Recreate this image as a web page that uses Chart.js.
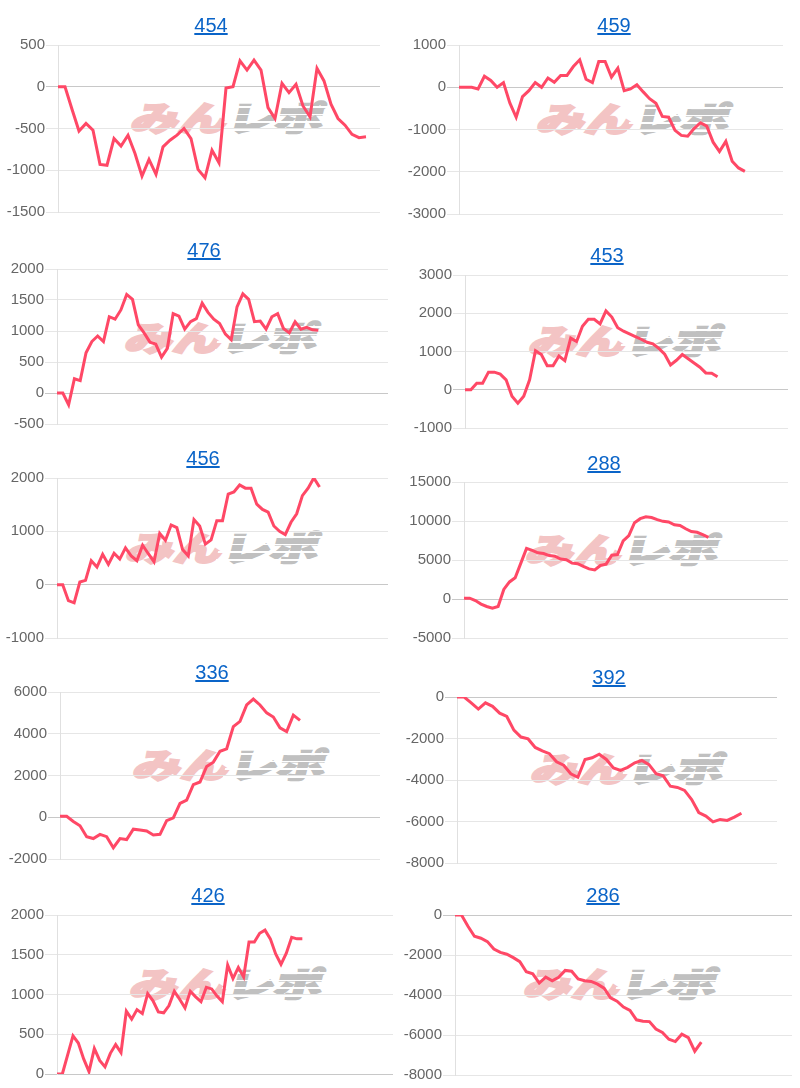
<!DOCTYPE html>
<html>
<head>
<meta charset="utf-8">
<script src="https://cdn.jsdelivr.net/npm/chart.js@4.4.1/dist/chart.umd.min.js"></script>
<style>
  body { margin: 0; background: #fff; }
  #page { position: relative; width: 800px; height: 1088px; overflow: hidden; }
  canvas { position: absolute; z-index: 2; }
  .title {
    position: absolute; z-index: 3; transform: translateX(-50%);
    font-family: "Liberation Sans", Arial, sans-serif; font-size: 20px; line-height: 22px;
    color: #0a64c8; text-decoration: underline;
  }
  .wm {
    position: absolute; z-index: 1; white-space: nowrap;
    font-family: "Noto Sans CJK JP", sans-serif; font-weight: 900; font-size: 40px; line-height: 40px;
    transform: translate(-50%, -50%) skewX(-14deg) scale(1.2, 0.85);
  }
  .wm .a { color: rgb(243, 196, 196); -webkit-text-stroke: 2.5px rgb(243, 196, 196); }
  .wm .b { position: relative; color: rgb(192, 192, 192); -webkit-text-stroke: 2.5px rgb(192, 192, 192); }
  .wm .b::after {
    content: ""; position: absolute; left: -4px; right: -4px; top: 0; bottom: 0;
    background: repeating-linear-gradient(to bottom, rgba(255,255,255,0) 0 7px, #fff 7px 9px);
  }
</style>
</head>
<body>
<div id="page"></div>
<script>
const titles = ["454", "459", "476", "453", "456", "288", "336", "392", "426", "286"];

const values454 = [0, 0, -270, -530, -440, -520, -930, -940, -620, -710, -580, -800, -1070, -870, -1050, -720, -640, -580, -500, -620, -990, -1090, -760, -910, -15, 0, 310, 200, 320, 200, -250, -380, 40, -70, 30, -230, -360, 220, 70, -210, -380, -460, -570, -610, -600];
const values459 = [0, 0, 0, -40, 260, 160, 0, 110, -370, -710, -220, -80, 110, 0, 220, 120, 280, 280, 490, 650, 190, 110, 610, 610, 240, 450, -80, -40, 60, -110, -270, -380, -690, -710, -1020, -1140, -1160, -980, -840, -920, -1300, -1520, -1280, -1750, -1910, -1990];
const values476 = [0, 0, -190, 230, 200, 650, 830, 920, 830, 1230, 1190, 1340, 1590, 1510, 1100, 970, 820, 790, 580, 720, 1280, 1240, 1030, 1150, 1200, 1450, 1300, 1190, 1120, 950, 860, 1390, 1600, 1510, 1150, 1160, 1030, 1230, 1280, 1040, 970, 1150, 1030, 1060, 1020, 1010];
const values453 = [0, 0, 170, 170, 460, 460, 410, 260, -170, -350, -170, 260, 1020, 920, 630, 630, 880, 760, 1350, 1260, 1660, 1840, 1840, 1720, 2060, 1900, 1620, 1530, 1460, 1390, 1320, 1240, 1200, 1080, 930, 650, 770, 920, 810, 700, 590, 440, 430, 340];
const values456 = [0, 0, -300, -340, 50, 80, 450, 330, 570, 380, 590, 480, 690, 540, 450, 740, 580, 430, 960, 830, 1120, 1070, 660, 540, 1220, 1100, 760, 840, 1200, 1200, 1700, 1740, 1870, 1810, 1810, 1510, 1410, 1360, 1100, 1000, 940, 1170, 1330, 1670, 1810, 2000, 1830];
const values288 = [100, 100, -200, -650, -960, -1180, -960, 1230, 2190, 2720, 4600, 6490, 6230, 5920, 5830, 5570, 5480, 5130, 5040, 4600, 4520, 4170, 3860, 3730, 4300, 4470, 5610, 5700, 7460, 8120, 9780, 10300, 10530, 10440, 10180, 9960, 9870, 9520, 9430, 9000, 8640, 8550, 8250, 7900];
const values336 = [50, 50, -200, -410, -930, -1020, -820, -930, -1460, -1020, -1070, -570, -610, -660, -850, -820, -160, -30, 660, 820, 1560, 1690, 2430, 2640, 3160, 3280, 4340, 4590, 5380, 5660, 5380, 5000, 4800, 4280, 4100, 4890, 4640];
const values392 = [0, 0, -280, -580, -280, -450, -780, -940, -1600, -1930, -2020, -2430, -2600, -2730, -3120, -3290, -3700, -3870, -3010, -2930, -2760, -3010, -3420, -3540, -3390, -3170, -3060, -3260, -3700, -3800, -4300, -4360, -4500, -4940, -5570, -5740, -6020, -5900, -5950, -5790, -5600];
const values426 = [0, 0, 240, 480, 390, 190, 30, 320, 170, 90, 260, 370, 270, 790, 690, 810, 760, 1010, 920, 780, 770, 860, 1040, 940, 830, 1040, 970, 910, 1090, 1070, 980, 910, 1370, 1200, 1340, 1220, 1660, 1660, 1770, 1810, 1700, 1510, 1380, 1520, 1720, 1700, 1700];
const values286 = [0, 0, -560, -1060, -1160, -1330, -1700, -1870, -1960, -2130, -2330, -2840, -2940, -3400, -3110, -3290, -3110, -2770, -2810, -3200, -3290, -3320, -3460, -3660, -4140, -4310, -4600, -4770, -5240, -5310, -5330, -5700, -5870, -6210, -6330, -5960, -6130, -6810, -6360];

const series = [values454, values459, values476, values453, values456, values288, values336, values392, values426, values286];

// number of x slots on each chart (data fills only the first part)
const slotCounts = [47, 52, 58, 56, 59, 58, 49, 46, 64, 53];

// y axis ranges
const yMins = [-1500, -3000, -500, -1000, -1000, -5000, -2000, -8000, 0, -8000];
const yMaxs = [500, 1000, 2000, 3000, 2000, 15000, 6000, 0, 2000, 0];
const ySteps = [500, 1000, 500, 1000, 1000, 5000, 2000, 2000, 500, 2000];

// page layout of each panel: plot area box, title centre, watermark centre
const boxes = [
  { l: 58, r: 380, t: 47, b: 210, cx: 211, ty: 25, wx: 229, wy: 117 },
  { l: 459, r: 783, t: 47, b: 212, cx: 614, ty: 25, wx: 635, wy: 118 },
  { l: 57, r: 388, t: 271, b: 422, cx: 204, ty: 250, wx: 223, wy: 337 },
  { l: 465, r: 788, t: 277, b: 426, cx: 607, ty: 255, wx: 627, wy: 340 },
  { l: 57, r: 388, t: 480, b: 636, cx: 203, ty: 458, wx: 224, wy: 547 },
  { l: 464, r: 788, t: 484, b: 636, cx: 604, ty: 463, wx: 624, wy: 549 },
  { l: 60, r: 380, t: 694, b: 857, cx: 212, ty: 672, wx: 231, wy: 764 },
  { l: 457, r: 777, t: 699, b: 861, cx: 609, ty: 677, wx: 629, wy: 768 },
  { l: 57, r: 393, t: 917, b: 1072, cx: 208, ty: 895, wx: 228, wy: 983 },
  { l: 455, r: 792, t: 917, b: 1073, cx: 603, ty: 895, wx: 622, wy: 983 }
];

const AXIS_W = 58;
const LABEL_HALF = 9; // chart.js reserves half a tick label above/below the plot
const PAD_T = 3, PAD_B = 3, PAD_R = 4;
const page = document.getElementById("page");

function makeChart(i) {
  const b = boxes[i];

  const a = document.createElement("a");
  a.href = "#";
  a.className = "title";
  a.textContent = titles[i];
  a.style.left = b.cx + "px";
  a.style.top = (b.ty - 11) + "px";
  page.appendChild(a);

  const wm = document.createElement("div");
  wm.className = "wm";
  wm.innerHTML = '<span class="a">みん</span><span class="b">レポ</span>';
  wm.style.left = b.wx + "px";
  wm.style.top = b.wy + "px";
  page.appendChild(wm);

  const cv = document.createElement("canvas");
  const left = b.l - AXIS_W;
  const top = b.t - PAD_T - LABEL_HALF;
  cv.width = b.r - left + PAD_R;
  cv.height = b.b - b.t + PAD_T + PAD_B + 2 * LABEL_HALF;
  cv.style.left = left + "px";
  cv.style.top = top + "px";
  page.appendChild(cv);

  const labels = [];
  for (let k = 1; k <= slotCounts[i]; k++) labels.push(String(k));

  new Chart(cv, {
    type: "line",
    data: {
      labels: labels,
      datasets: [
        {
          data: series[i],
          borderColor: "rgb(255, 72, 102)",
          borderWidth: 3,
          pointRadius: 0,
          tension: 0,
        },
      ],
    },
    options: {
      responsive: false,
      animation: false,
      layout: { padding: { top: PAD_T, bottom: PAD_B, right: PAD_R, left: 0 } },
      plugins: { legend: { display: false }, tooltip: { enabled: false } },
      scales: {
        x: { display: false },
        y: {
          min: yMins[i],
          max: yMaxs[i],
          afterFit: (s) => { s.width = AXIS_W; },
          ticks: {
            stepSize: ySteps[i],
            padding: 1,
            color: "#666",
            font: { family: "'Liberation Sans', Arial, sans-serif", size: 15 },
            callback: (v) => String(v),
          },
          grid: {
            drawTicks: true,
            tickLength: 12,
            color: (c) => (c.tick && c.tick.value === 0 ? "#c8c8c8" : "#e6e6e6"),
          },
          border: { color: "#e0e0e0" },
        },
      },
    },
  });
}

for (let i = 0; i < titles.length; i++) makeChart(i);
</script>
</body>
</html>
